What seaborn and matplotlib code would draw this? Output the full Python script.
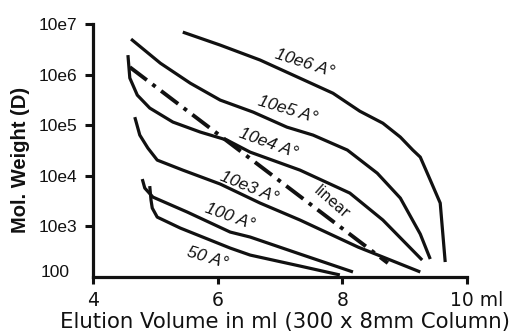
import matplotlib
matplotlib.use("Agg")
import matplotlib.pyplot as plt
import seaborn as sns

# elution volume (ml) / molecular weight (D)
vol_10e6 = [5.44, 6.04, 6.68, 7.85, 8.28, 8.65, 8.93, 9.13, 9.25, 9.41, 9.57, 9.65]
mw_10e6 = [6.95e6, 3.85e6, 1.95e6, 4.3e5, 1.9e5, 1.1e5, 5.85e4, 3.24e4, 2.35e4, 8.3e3, 2.9e3, 198]

vol_10e5 = [4.61, 5.08, 5.56, 6.04, 6.57, 7.11, 7.53, 8.08, 8.56, 8.93, 9.25, 9.41]
mw_10e5 = [5.06e6, 1.69e6, 6.8e5, 3.15e5, 1.82e5, 9.2e4, 6.4e4, 3.24e4, 1.13e4, 3.64e3, 708, 227]

vol_10e4 = [4.56, 4.59, 4.71, 4.91, 5.28, 5.72, 6.15, 6.52, 7.32, 8.12, 8.65, 9.28]
mw_10e4 = [2.44e6, 8.6e5, 3.95e5, 2.19e5, 1.16e5, 7.35e4, 5.1e4, 2.95e4, 1.3e4, 4.57e3, 1.34e3, 217]

vol_10e3 = [4.67, 4.75, 4.88, 5.03, 5.44, 6.04, 6.68, 7.32, 8.25, 9.25]
mw_10e3 = [1.45e5, 6.4e4, 3.54e4, 2.05e4, 1.3e4, 6.9e3, 2.9e3, 1.34e3, 392, 126]

vol_100 = [4.79, 4.83, 4.96, 5.51, 6.20, 6.52, 7.32, 8.17]
mw_100 = [8.65e3, 5.74e3, 3.81e3, 1.93e3, 775, 618, 285, 126]

vol_50 = [4.91, 4.93, 4.95, 5.03, 5.40, 6.20, 6.52, 7.32, 7.96]
mw_50 = [6.28e3, 3.33e3, 2.31e3, 1.53e3, 929, 374, 272, 165, 110]

vol_linear = [4.59, 8.73]
mw_linear = [1.41e6, 189]

curve_names = ["10e6 A°", "10e5 A°", "10e4 A°", "10e3 A°", "100 A°", "50 A°"]
# label anchor (volume, MW) and angle for each curve label
label_vol = [7.40, 7.13, 6.81, 6.50, 6.20, 5.83]
label_mw = [1.69e6, 2.0e5, 4.45e4, 6.0e3, 1.53e3, 237]
label_rot = [-18, -17, -20, -22, -20, -17]

ytick_vals = [1e3, 1e4, 1e5, 1e6, 1e7]
ytick_text = ["10e3", "10e4", "10e5", "10e6", "10e7"]
xtick_vals = [4, 6, 8, 10]
xtick_text = ["4", "6", "8", ""]

sns.set_style("ticks")
plt.rcParams["font.family"] = ["DejaVu Sans"]

fig = plt.figure(figsize=(5.14, 3.35), dpi=100)
ax = fig.add_axes([0.181, 0.173, 0.7276, 0.755])

series = [(vol_10e6, mw_10e6), (vol_10e5, mw_10e5), (vol_10e4, mw_10e4),
          (vol_10e3, mw_10e3), (vol_100, mw_100), (vol_50, mw_50)]
for vol, mw in series:
    sns.lineplot(x=vol, y=mw, color="#111111", lw=2.3, ax=ax, solid_capstyle="butt")
sns.lineplot(x=vol_linear, y=mw_linear, color="#111111", lw=2.8, ax=ax,
             linestyle=(0, (5.5, 1.8, 1, 1.8)))

ax.set_yscale("log")
ax.set_xlim(4, 10)
ax.set_ylim(1e2, 1e7)
ax.yaxis.set_minor_locator(matplotlib.ticker.NullLocator())
ax.set_yticks(ytick_vals)
ax.set_yticklabels(ytick_text, fontsize=12.5, family="Liberation Sans")
ax.set_xticks(xtick_vals)
ax.set_xticklabels(xtick_text, fontsize=13.5)

ax.tick_params(axis="y", length=6, width=2.2, pad=5.5, colors="#111111")
ax.tick_params(axis="x", length=5, width=2.2, pad=5, colors="#111111")
for side in ["left", "bottom"]:
    ax.spines[side].set_linewidth(2.3)
    ax.spines[side].set_color("#111111")
sns.despine(ax=ax)

# last x tick label carries the unit and starts just left of its tick
ax.annotate("10 ml", xy=(10, 0), xycoords=ax.get_xaxis_transform(),
            xytext=(-12.2, -10), textcoords="offset points", ha="left", va="top",
            fontsize=13.5, color="#111111", annotation_clip=False)

# bottom "100" label sits just above the axis, without a tick
ax.text(-0.0615, 1e2, "100", transform=ax.get_yaxis_transform(), ha="right", va="baseline",
        fontsize=12.5, family="Liberation Sans", color="#111111")

for name, lx, ly, rot in zip(curve_names, label_vol, label_mw, label_rot):
    ax.text(lx, ly, name, rotation=rot, rotation_mode="anchor", ha="center", va="center",
            fontsize=12.5, style="italic", family="Liberation Sans", color="#111111")
ax.text(7.82, 3.0e3, "linear", rotation=-41, rotation_mode="anchor", ha="center", va="center",
        fontsize=10.5, color="#111111")

ax.set_xlabel("Elution Volume in ml (300 x 8mm Column)", fontsize=15.3, color="#111111")
ax.xaxis.set_label_coords(0.513, -0.14)
ax.set_ylabel("Mol. Weight (D)", fontsize=14.5, fontweight="bold", family="Liberation Sans",
              color="#111111")
ax.yaxis.set_label_coords(-0.168, 0.462)

fig.savefig("out.png", dpi=100)
